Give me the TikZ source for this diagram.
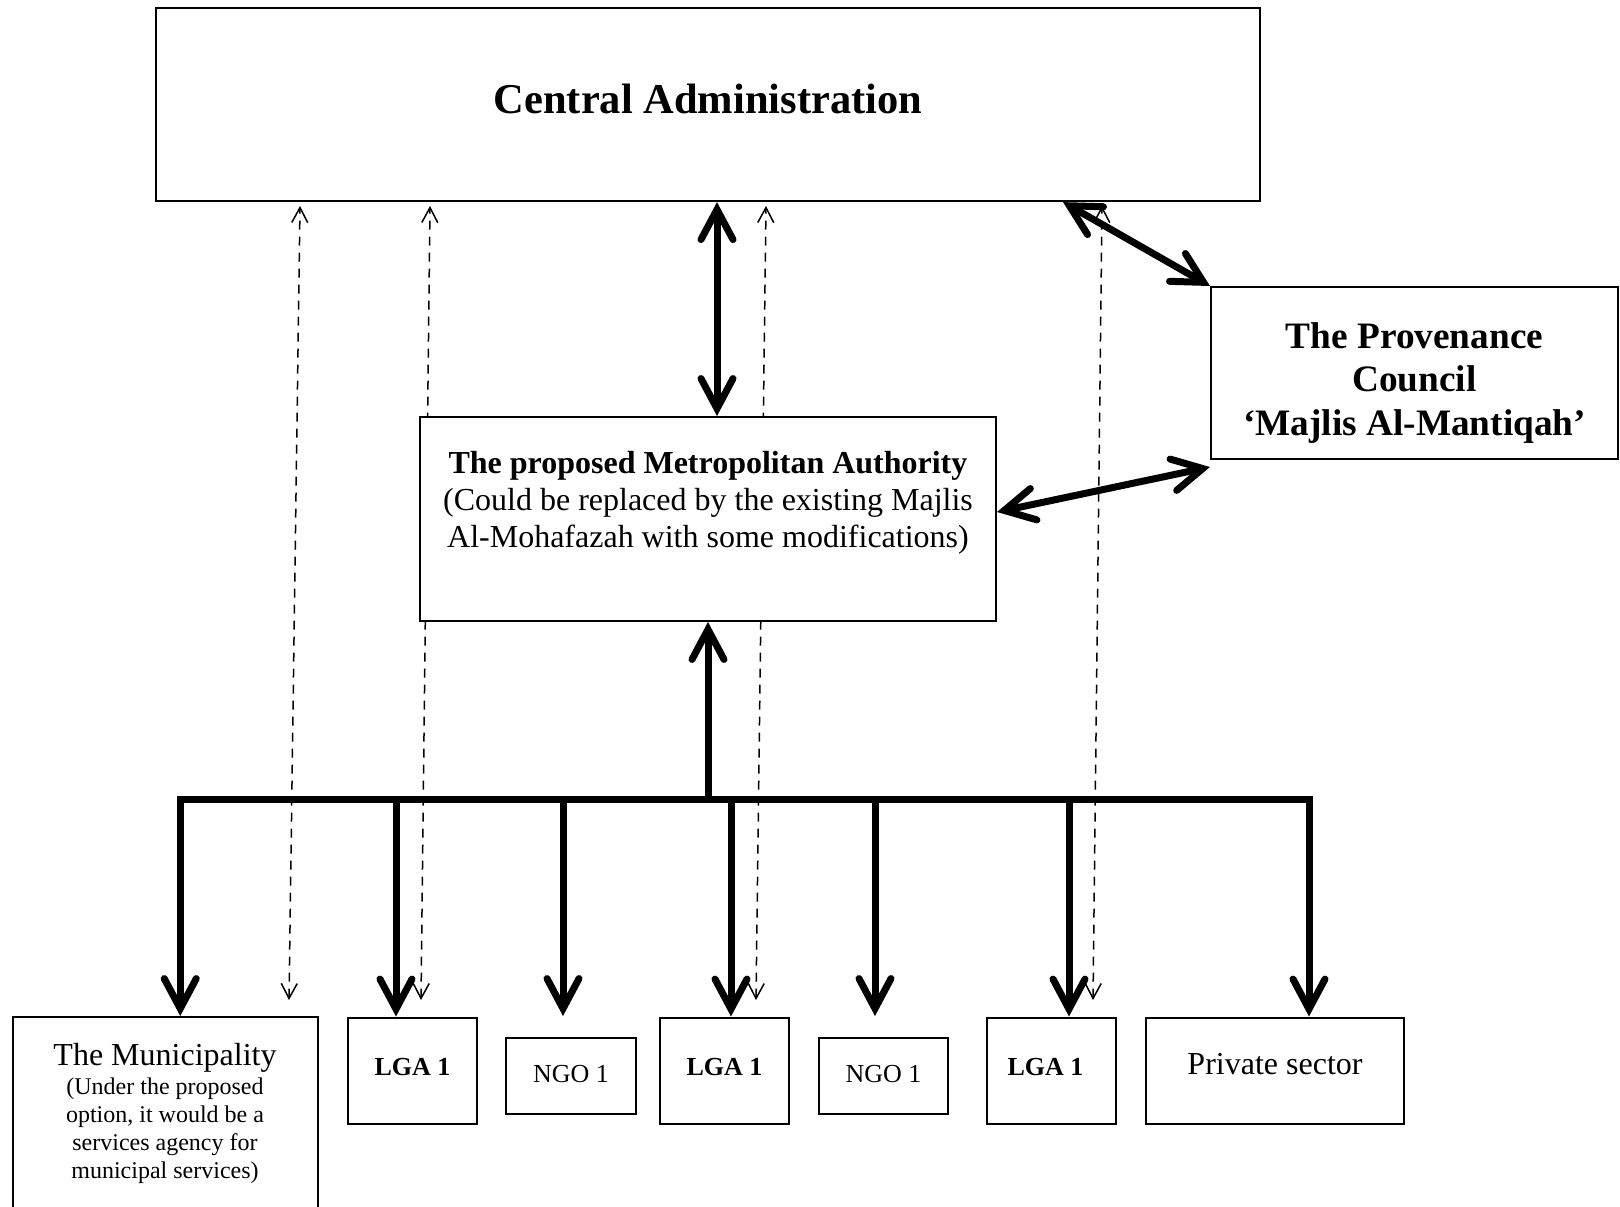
\documentclass[tikz,border=0pt]{standalone}
\usepackage{fontspec}
\setmainfont{Liberation Serif}
\usetikzlibrary{arrows.meta,calc}
\begin{document}
\begin{tikzpicture}[x=1pt,y=-1pt,
  box/.style={draw, line width=2pt, fill=white, inner sep=0pt},
  txt/.style={inner sep=0pt, align=center},
  bigbarb/.tip={Straight Barb[length=30pt,width=32pt,line join=miter,line cap=round]},
  smallbarb/.tip={Straight Barb[length=15pt,width=16pt,line join=miter]},
  conn/.style={line width=7pt},
  dashconn/.style={line width=1.5pt, dash pattern=on 9pt off 7pt, smallbarb-smallbarb},
]
\useasboundingbox (0,0) rectangle (1620,1207);
\clip (0,0) rectangle (1620,1207);

% dashed links (behind boxes)
\coordinate (d1t) at (300,206);  \coordinate (d1b) at (289,1000);
\coordinate (d2t) at (430,206);  \coordinate (d2b) at (421,1000);
\coordinate (d3t) at (766,206);  \coordinate (d3b) at (756,1000);
\coordinate (d4t) at (1102,206); \coordinate (d4b) at (1093,1000);
\draw[dashconn] (d1b) -- (d1t);
\draw[dashconn] (d2b) -- (d2t);
\draw[dashconn] (d3b) -- (d3t);
\draw[dashconn] (d4b) -- (d4t);

% boxes
\node[box, minimum width=1104pt, minimum height=193pt] (central) at (708,104.6) {};
\node[box, minimum width=407pt, minimum height=172pt] (prov) at (1414.5,373) {};
\node[box, minimum width=576pt, minimum height=204pt] (metro) at (708,519) {};
\node[box, minimum width=305.5pt, minimum height=233pt] (muni) at (165.25,1133.5) {};
\node[box, minimum width=129pt, minimum height=106.5pt] (lgaA) at (412.5,1070.75) {};
\node[box, minimum width=130pt, minimum height=75.5pt] (ngoA) at (571,1075.75) {};
\node[box, minimum width=129pt, minimum height=106.5pt] (lgaB) at (724.5,1070.75) {};
\node[box, minimum width=129pt, minimum height=75.5pt] (ngoB) at (883.5,1075.75) {};
\node[box, minimum width=129pt, minimum height=106.5pt] (lgaC) at (1051.5,1070.75) {};
\node[box, minimum width=258pt, minimum height=106.5pt] (priv) at (1275,1070.75) {};

% texts
\node[txt, font=\bfseries\fontsize{42.5}{50}\selectfont] (central-t) at (708,99) {Central Administration};
\node[txt, font=\bfseries\fontsize{37.3}{43.4}\selectfont] (prov-t) at (1414.5,383) {The Provenance\\Council\\‘Majlis Al-Mantiqah’};
\node[txt, font=\fontsize{32}{37.2}\selectfont] (metro-t) at (708,503) {\textbf{The proposed Metropolitan Authority}\\(Could be replaced by the existing Majlis\\Al-Mohafazah with some modifications)};
\node[txt, font=\fontsize{32}{37}\selectfont] (muni-t) at (165,1058) {The Municipality};
\node[txt, font=\fontsize{24}{27.9}\selectfont] (muni-s) at (165,1131) {(Under the proposed\\option, it would be a\\services agency for\\municipal services)};
\node[txt, font=\bfseries\fontsize{26}{30}\selectfont] (lgaA-t) at (412.5,1067) {LGA 1};
\node[txt, font=\fontsize{26}{30}\selectfont] (ngoA-t) at (571,1074.5) {NGO 1};
\node[txt, font=\bfseries\fontsize{26}{30}\selectfont] (lgaB-t) at (724.5,1067) {LGA 1};
\node[txt, font=\fontsize{26}{30}\selectfont] (ngoB-t) at (883.5,1074.5) {NGO 1};
\node[txt, font=\bfseries\fontsize{26}{30}\selectfont] (lgaC-t) at (1045.5,1067) {LGA 1};
\node[txt, font=\fontsize{32}{37}\selectfont] (priv-t) at (1275,1064) {Private sector};

% thick two-way links
\draw[conn, bigbarb-bigbarb] ([xshift=9pt]central.south) -- ([xshift=9pt]metro.north);
\draw[conn, bigbarb-bigbarb] ([xshift=355pt]central.south) -- (prov.north west);
\draw[conn, bigbarb-bigbarb] ([yshift=7pt]metro.east) -- ([yshift=-7pt]prov.south west);

% bus and branches
\coordinate (a1) at ([xshift=15pt]muni.north);
\coordinate (a2) at ([xshift=-16.5pt]lgaA.north);
\coordinate (a3) at ([xshift=-8pt,yshift=21pt]ngoA.north);
\coordinate (a4) at ([xshift=6.5pt]lgaB.north);
\coordinate (a5) at ([xshift=-8.5pt,yshift=21pt]ngoB.north);
\coordinate (a6) at ([xshift=17.5pt]lgaC.north);
\coordinate (a7) at ([xshift=34pt]priv.north);
\coordinate (busL) at (180.25,799);
\coordinate (busR) at (a7 |- busL);
\draw[conn, line cap=rect] (busL) -- (busR);
\draw[conn, -bigbarb] (metro.south |- busL) -- (metro.south);
\foreach \a in {a1,a2,a3,a4,a5,a6,a7}
  \draw[conn, -bigbarb] (\a |- busL) -- (\a);
\end{tikzpicture}
\end{document}
